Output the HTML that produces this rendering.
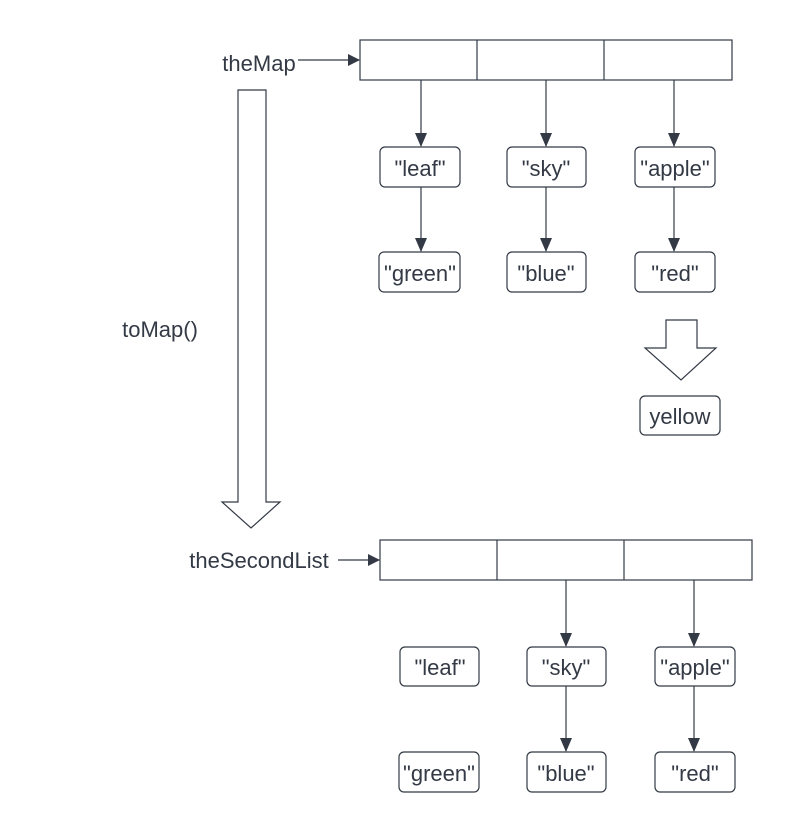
<!DOCTYPE html>
<html><head><style>body{margin:0;background:#fff}</style></head><body>
<svg width="792" height="832" xmlns="http://www.w3.org/2000/svg" font-family="Liberation Sans, sans-serif" font-size="22" fill="#333a45">
<defs><marker id="a" markerWidth="12" markerHeight="12" refX="11" refY="6" orient="auto" markerUnits="userSpaceOnUse"><path d="M0,0 L12,6 L0,12z" fill="#333a45"/></marker>
<marker id="d" markerWidth="12" markerHeight="14" refX="6" refY="13" orient="0" markerUnits="userSpaceOnUse"><path d="M0,0 L12,0 L6,14z" fill="#333a45"/></marker></defs>
<g stroke="#333a45" stroke-width="1.2" fill="none">
<rect x="360" y="40" width="372" height="40"/><line x1="477" y1="40" x2="477" y2="80"/><line x1="604" y1="40" x2="604" y2="80"/>
<rect x="380" y="540" width="372" height="40"/><line x1="497" y1="540" x2="497" y2="580"/><line x1="624" y1="540" x2="624" y2="580"/>
<line x1="298" y1="60" x2="359" y2="60" marker-end="url(#a)"/>
<line x1="338" y1="560" x2="379" y2="560" marker-end="url(#a)"/>
<rect x="380" y="147" width="80" height="40" rx="5"/><rect x="507" y="147" width="79" height="40" rx="5"/><rect x="635" y="147" width="80" height="40" rx="5"/>
<rect x="379" y="252" width="81" height="40" rx="5"/><rect x="507" y="252" width="79" height="40" rx="5"/><rect x="635" y="252" width="80" height="40" rx="5"/>
<rect x="640" y="396" width="80" height="39" rx="5"/>
<rect x="400" y="647" width="79" height="39" rx="5"/><rect x="527" y="647" width="79" height="39" rx="5"/><rect x="655" y="647" width="80" height="39" rx="5"/>
<rect x="399" y="752" width="80" height="40" rx="5"/><rect x="527" y="752" width="79" height="40" rx="5"/><rect x="655" y="752" width="80" height="40" rx="5"/>
<line x1="421" y1="80" x2="421" y2="146" marker-end="url(#d)"/><line x1="546" y1="80" x2="546" y2="146" marker-end="url(#d)"/><line x1="674" y1="80" x2="674" y2="146" marker-end="url(#d)"/>
<line x1="421" y1="187" x2="421" y2="251" marker-end="url(#d)"/><line x1="546" y1="187" x2="546" y2="251" marker-end="url(#d)"/><line x1="674" y1="187" x2="674" y2="251" marker-end="url(#d)"/>
<line x1="566" y1="580" x2="566" y2="646" marker-end="url(#d)"/><line x1="694" y1="580" x2="694" y2="646" marker-end="url(#d)"/>
<line x1="566" y1="686" x2="566" y2="751" marker-end="url(#d)"/><line x1="694" y1="686" x2="694" y2="751" marker-end="url(#d)"/>
<path d="M238,90 L266,90 L266,502 L280,502 L251,528 L222,502 L238,502 Z"/>
<path d="M666,320 L697,320 L697,348 L716,348 L681,380 L645,348 L666,348 Z"/>
</g>
<g text-anchor="middle">
<text x="259" y="71">theMap</text><text x="160" y="337">toMap()</text><text x="259" y="568">theSecondList</text>
<text x="420" y="176">"leaf"</text><text x="546" y="176">"sky"</text><text x="675" y="176">"apple"</text>
<text x="420" y="281">"green"</text><text x="546" y="281">"blue"</text><text x="675" y="281">"red"</text>
<text x="680" y="424">yellow</text>
<text x="440" y="675">"leaf"</text><text x="566" y="675">"sky"</text><text x="695" y="675">"apple"</text>
<text x="439" y="781">"green"</text><text x="566" y="781">"blue"</text><text x="695" y="781">"red"</text>
</g>
</svg>
</body></html>
